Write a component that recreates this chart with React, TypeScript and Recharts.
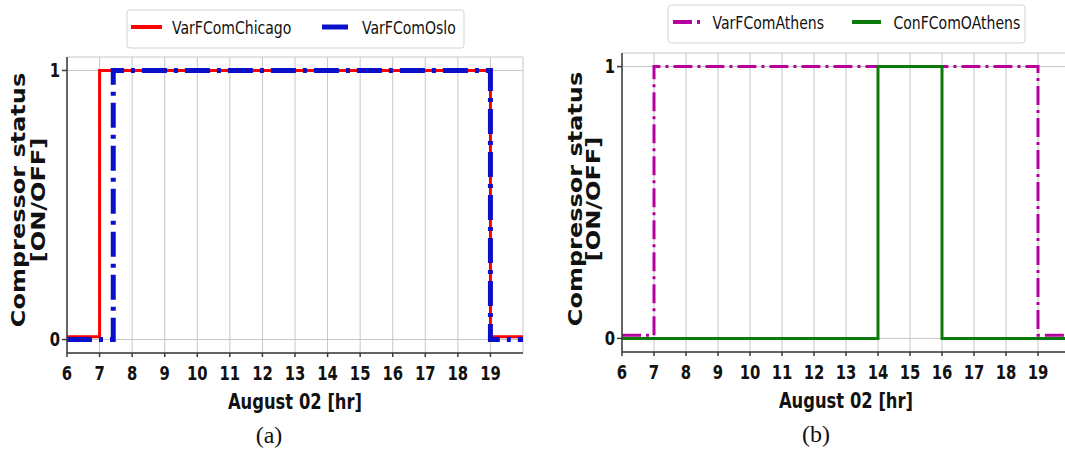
import { LineChart, Line, XAxis, YAxis, CartesianGrid } from "recharts";

// hour of day on the x axis, compressor on/off on the y axis
const hourTicks = [6, 7, 8, 9, 10, 11, 12, 13, 14, 15, 16, 17, 18, 19];
const statusTicks = [0, 1];

const chicagoHours = [6, 7, 19, 20];
const chicagoStatus = [0.01, 1, 0.01, 0.01];
const osloHours = [6, 7.42, 19, 20];
const osloStatus = [0, 1, 0, 0];

const athensVarHours = [6, 7, 19, 20];
const athensVarStatus = [0.012, 1, 0.012, 0.012];
const athensConHours = [6, 14, 16, 20];
const athensConStatus = [0, 1, 0, 0];

const toPoints = (hours: number[], status: number[]) =>
  hours.map((h, i) => ({ hour: h, status: status[i] }));

const FONT = "'DejaVu Sans', sans-serif";
const SQ = 0.78; // the original figure is squeezed horizontally
const FRAME = "#3a3a3a";

const XTick = (props: any) => {
  const { x, y, payload } = props;
  return (
    <g transform={`translate(${x},${y})`}>
      <text
        transform={`scale(${SQ},1)`}
        textAnchor="middle"
        dy="0.72em"
        fontFamily={FONT}
        fontWeight="bold"
        fontSize={19}
        fill="#111"
      >
        {payload.value}
      </text>
    </g>
  );
};

const YTick = (props: any) => {
  const { x, y, payload } = props;
  return (
    <g transform={`translate(${x},${y})`}>
      <text
        transform={`scale(${SQ},1)`}
        textAnchor="end"
        dy="0.36em"
        fontFamily={FONT}
        fontWeight="bold"
        fontSize={19}
        fill="#111"
      >
        {payload.value}
      </text>
    </g>
  );
};

type Series = {
  name: string;
  data: { hour: number; status: number }[];
  color: string;
  width: number;
  dash?: string;
};

function Panel({
  left,
  width,
  margin,
  series,
}: {
  left: number;
  width: number;
  margin: { top: number; right: number; bottom: number; left: number };
  series: Series[];
}) {
  return (
    <div style={{ position: "absolute", left, top: 0 }}>
      <LineChart width={width} height={451} margin={margin}>
        <CartesianGrid stroke="#c6c6c6" strokeWidth={1} />
        <XAxis
          dataKey="hour"
          type="number"
          domain={[6, 20]}
          ticks={hourTicks}
          interval={0}
          allowDataOverflow
          height={30}
          tickSize={4}
          tickMargin={9}
          tick={<XTick />}
          stroke={FRAME}
          strokeWidth={1.5}
        />
        <XAxis
          xAxisId="top"
          orientation="top"
          type="number"
          domain={[6, 20]}
          height={0}
          tick={false}
          tickLine={false}
          stroke={FRAME}
          strokeWidth={1.5}
        />
        <YAxis
          type="number"
          domain={[-0.05, 1.05]}
          ticks={statusTicks}
          allowDataOverflow
          width={40}
          tickSize={5}
          tickMargin={2}
          tick={<YTick />}
          stroke={FRAME}
          strokeWidth={1.5}
        />
        <YAxis
          yAxisId="right"
          orientation="right"
          type="number"
          domain={[-0.05, 1.05]}
          width={0}
          tick={false}
          tickLine={false}
          stroke={FRAME}
          strokeWidth={1.5}
        />
        {series.map((s) => (
          <Line
            key={s.name}
            name={s.name}
            data={s.data}
            dataKey="status"
            type="stepAfter"
            stroke={s.color}
            strokeWidth={s.width}
            strokeDasharray={s.dash}
            dot={false}
            activeDot={false}
            isAnimationActive={false}
          />
        ))}
      </LineChart>
    </div>
  );
}

const leftSeries: Series[] = [
  { name: "VarFComChicago", data: toPoints(chicagoHours, chicagoStatus), color: "#ff0000", width: 3 },
  { name: "VarFComOslo", data: toPoints(osloHours, osloStatus), color: "#0a10c8", width: 5, dash: "25 7 4 7" },
];

const rightSeries: Series[] = [
  { name: "VarFComAthens", data: toPoints(athensVarHours, athensVarStatus), color: "#b800a0", width: 3, dash: "19 5 3 5" },
  { name: "ConFComOAthens", data: toPoints(athensConHours, athensConStatus), color: "#0b7a0b", width: 3 },
];

function SqText({ x, y, size, bold, anchor, children }: any) {
  return (
    <text
      transform={`translate(${x},${y}) scale(${SQ},1)`}
      textAnchor={anchor || "start"}
      fontFamily={FONT}
      fontWeight={bold ? "bold" : "normal"}
      fontSize={size}
      fill="#111"
    >
      {children}
    </text>
  );
}

function YLabel({ cx, cy, y1, y2 }: { cx: number; cy: number; y1: number; y2: number }) {
  return (
    <g transform={`translate(${cx},${cy}) rotate(-90) scale(1,${SQ})`}>
      <text textAnchor="middle" y={y1} fontFamily={FONT} fontWeight="bold" fontSize={24} fill="#111">
        Compressor status
      </text>
      <text textAnchor="middle" y={y2} fontFamily={FONT} fontWeight="bold" fontSize={24} fill="#111">
        [ON/OFF]
      </text>
    </g>
  );
}

export default function App() {
  return (
    <div
      style={{
        position: "fixed",
        left: 0,
        top: 0,
        width: 1065,
        height: 451,
        overflow: "hidden",
        background: "#fff",
      }}
    >
      <Panel left={0} width={540} margin={{ top: 57, right: 17, bottom: 68, left: 27 }} series={leftSeries} />
      <Panel left={540} width={560} margin={{ top: 53, right: 30, bottom: 69, left: 42 }} series={rightSeries} />

      <svg
        width={1065}
        height={451}
        style={{ position: "absolute", left: 0, top: 0, pointerEvents: "none" }}
      >
        {/* legend (a) */}
        <rect x={127} y={10} width={337} height={38} rx={3} fill="#fff" stroke="#d2d2d2" />
        <line x1={131} y1={27} x2={162} y2={27} stroke="#ff0000" strokeWidth={4} />
        <SqText x={172} y={33.5} size={18}>VarFComChicago</SqText>
        <line x1={322} y1={27} x2={348} y2={27} stroke="#0a10c8" strokeWidth={5} />
        <SqText x={362} y={33.5} size={18}>VarFComOslo</SqText>

        {/* legend (b) */}
        <rect x={668} y={5} width={357} height={38} rx={3} fill="#fff" stroke="#d2d2d2" />
        <line x1={673} y1={22} x2={701} y2={22} stroke="#b800a0" strokeWidth={4} strokeDasharray="19 5 3 5" />
        <SqText x={712.5} y={29} size={18}>VarFComAthens</SqText>
        <line x1={852} y1={22} x2={881} y2={22} stroke="#0b7a0b" strokeWidth={4} />
        <SqText x={893.5} y={29} size={18}>ConFComOAthens</SqText>

        <YLabel cx={28} cy={200} y1={-3.7} y2={22} />
        <YLabel cx={584} cy={199} y1={-2.8} y2={21} />

        <SqText x={295} y={409} size={21} bold anchor="middle">August 02 [hr]</SqText>
        <SqText x={846} y={408} size={21} bold anchor="middle">August 02 [hr]</SqText>

        <text x={269} y={443} textAnchor="middle" fontFamily="'Liberation Serif', serif" fontSize={24} fill="#111">
          (a)
        </text>
        <text x={816} y={442} textAnchor="middle" fontFamily="'Liberation Serif', serif" fontSize={24} fill="#111">
          (b)
        </text>
      </svg>
    </div>
  );
}
